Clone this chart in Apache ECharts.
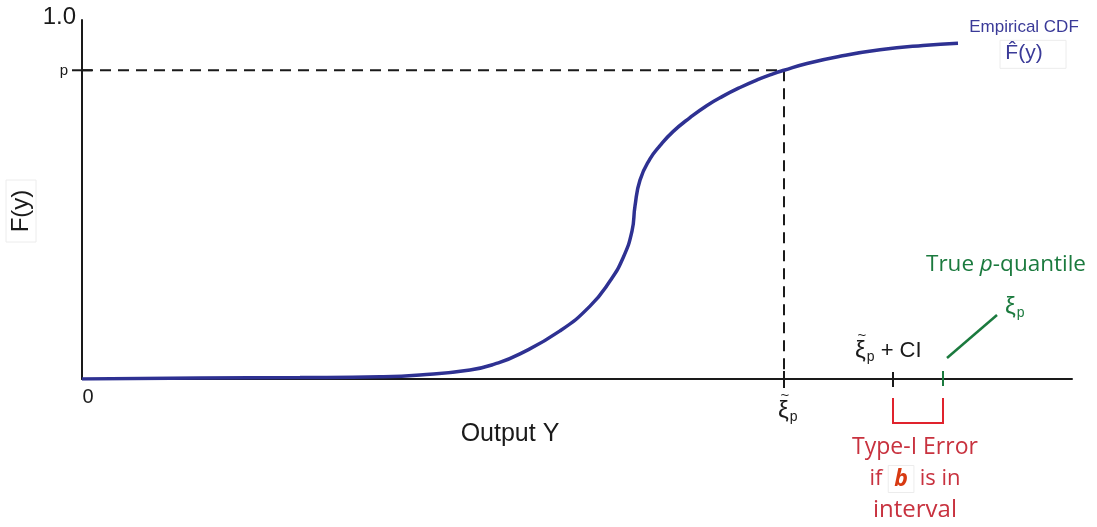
<!DOCTYPE html>
<html>
<head>
<meta charset="utf-8">
<script src="https://cdn.jsdelivr.net/npm/echarts@6/dist/echarts.min.js"></script>
<style>
  html, body { margin: 0; padding: 0; background: #fff; }
  #chart { width: 1097px; height: 527px; }
</style>
</head>
<body>
<div id="chart"></div>
<script>
// Empirical CDF sample points: output value and cumulative probability
const outputY = [0, 11.8, 21.8, 29.8, 33.8, 38.8, 41.3, 43.8, 47.8, 50.8, 52.8, 54.1, 55.0, 55.3, 55.8, 56.8, 57.8, 59.1, 60.8, 62.5, 64.1, 65.8, 67.5, 69.1, 70.2, 72.5, 75.8, 79.8, 84.1, 87.6];
const cdfValues = [0, 0.003, 0.004, 0.006, 0.011, 0.025, 0.042, 0.070, 0.134, 0.203, 0.273, 0.337, 0.412, 0.482, 0.554, 0.613, 0.650, 0.689, 0.728, 0.762, 0.788, 0.812, 0.833, 0.850, 0.860, 0.879, 0.899, 0.917, 0.929, 0.935];

// Probability level p and the quantities marked on the output axis
const pLevel = 0.86;
const quantileEstimate = 70.2;   // estimated p-quantile
const ciUpper = 81.1;            // upper end of the confidence interval
const trueQuantile = 86.1;       // true p-quantile
const xMax = 99;

// Axis labels
const yTickLabels = ['1.0', 'p'];
const xTickLabels = ['0'];

const INK = '#1a1a1a';
const CURVE = '#2e3192';
const GREEN = '#1b7a3e';
const RED = '#c8323f';
const BRACKET = '#e0232d';
const SANS = '"Liberation Sans", Arial, sans-serif';
const HUMAN = '"Open Sans", "Noto Sans", sans-serif';

const chart = echarts.init(document.getElementById('chart'), null, { renderer: 'canvas' });

chart.setOption({
  animation: false,
  backgroundColor: '#fff',
  grid: { left: 82, right: 25, top: 20, bottom: 148 },
  xAxis: {
    type: 'value', min: 0, max: xMax,
    axisLine: { lineStyle: { color: INK, width: 2 } },
    axisTick: { show: false }, axisLabel: { show: false }, splitLine: { show: false }
  },
  yAxis: {
    type: 'value', min: 0, max: 1,
    axisLine: { show: true, lineStyle: { color: INK, width: 2 } },
    axisTick: { show: false }, axisLabel: { show: false }, splitLine: { show: false }
  },
  series: [
    {
      name: 'Empirical CDF',
      type: 'line',
      data: outputY.map((x, i) => [x, cdfValues[i]]),
      smooth: 0.5,
      symbol: 'none',
      lineStyle: { color: CURVE, width: 3.5 },
      z: 5
    },
    {
      name: 'quantile guide',
      type: 'line',
      data: [[0, pLevel], [quantileEstimate, pLevel], [quantileEstimate, 0]],
      symbol: 'none',
      lineStyle: { color: INK, width: 2, type: [11, 7] },
      z: 3
    }
  ]
});

// Annotations placed from the data values via the grid's coordinate system
const toPx = (x, y) => chart.convertToPixel({ gridIndex: 0 }, [x, y]);
const [x0, y0] = toPx(0, 0);
const [, yTop] = toPx(0, 1);
const [, yP] = toPx(0, pLevel);
const [xQ] = toPx(quantileEstimate, 0);
const [xCI] = toPx(ciUpper, 0);
const [xT] = toPx(trueQuantile, 0);
const [xEnd, yEnd] = toPx(outputY[outputY.length - 1], cdfValues[cdfValues.length - 1]);

const line = (x1, y1, x2, y2, color, width) => ({
  type: 'line', silent: true, z: 10,
  shape: { x1, y1, x2, y2 },
  style: { stroke: color, lineWidth: width || 2 }
});
const text = (x, y, str, style) => ({
  type: 'text', silent: true, z: 10, x, y,
  style: Object.assign({ text: str, textAlign: 'center', textVerticalAlign: 'middle' }, style)
});

// ξ with subscript p (optionally with a tilde and trailing text), left edge at x, middle at y
const xiLabel = (x, y, color, tilde, suffix) => {
  const parts = [
    text(x, y, '{xi|ξ}{s|p}' + (suffix ? '{t|' + suffix + '}' : ''), {
      textAlign: 'left',
      rich: {
        xi: { font: '24px ' + SANS, fill: color },
        s: { font: '14px ' + SANS, fill: color, padding: [13, 0, 0, 1] },
        t: { font: '22px ' + SANS, fill: color }
      }
    })
  ];
  if (tilde) {
    parts.push(text(x + 7, y - 15, '~', { font: '15px ' + SANS, fill: color }));
  }
  return parts;
};

const graphics = [
  // y-axis tick for p, crossing the axis
  line(x0 - 10, yP, x0 + 10, yP, INK, 2),
  // x-axis ticks
  line(xQ, y0 - 8, xQ, y0 + 9, INK, 2),
  line(xCI, y0 - 7, xCI, y0 + 8, INK, 2),
  line(xT, y0 - 8, xT, y0 + 7, GREEN, 2),
  // leader to the true quantile label
  line(xT + 4, y0 - 21, xT + 54, y0 - 64, GREEN, 2.5),
  // interval bracket
  {
    type: 'polyline', silent: true, z: 10,
    shape: { points: [[xCI, y0 + 19], [xCI, y0 + 44], [xT, y0 + 44], [xT, y0 + 19]] },
    style: { stroke: BRACKET, lineWidth: 2, fill: null }
  },

  // y-axis labels
  text(x0 - 6, yTop - 3, yTickLabels[0], { textAlign: 'right', font: '24px ' + SANS, fill: INK }),
  text(x0 - 14, yP + 1, yTickLabels[1], { textAlign: 'right', font: '15px ' + SANS, fill: INK }),
  // x-axis labels
  text(x0 + 6, y0 + 18, xTickLabels[0], { font: '20px ' + SANS, fill: INK }),
  ...xiLabel(xQ - 6, y0 + 32, INK, true),

  // axis titles
  text(510, 434, 'Output Y', { font: '25px ' + SANS, fill: INK }),
  {
    type: 'rect', silent: true, z: 9,
    shape: { x: 6, y: 180, width: 30, height: 62 },
    style: { stroke: '#ececec', lineWidth: 1, fill: null }
  },
  {
    type: 'text', silent: true, z: 10, x: 21, y: 211, rotation: Math.PI / 2,
    style: { text: 'F(y)', font: '24px ' + SANS, fill: INK, textAlign: 'center', textVerticalAlign: 'middle' }
  },

  // curve legend
  text(xEnd + 66, yEnd - 16, 'Empirical CDF', { font: '17px ' + SANS, fill: '#3a3a98' }),
  {
    type: 'rect', silent: true, z: 9,
    shape: { x: xEnd + 42, y: yEnd - 3, width: 66, height: 28 },
    style: { stroke: '#ececec', lineWidth: 1, fill: null }
  },
  text(xEnd + 66, yEnd + 10, 'F\u0302(y)', { font: '21px ' + SANS, fill: '#3a3a98' }),

  // true quantile annotation
  text(xT + 63, y0 - 114, '{t|True }{i|p}{t|-quantile}', {
    rich: {
      t: { font: '22.5px ' + HUMAN, fill: GREEN },
      i: { font: 'italic 22.5px ' + HUMAN, fill: GREEN }
    }
  }),
  ...xiLabel(xT + 62, y0 - 72, GREEN, false),

  // estimate with confidence interval
  ...xiLabel(xCI - 38, y0 - 28, INK, true, ' + CI'),

  // Type-I error note
  text((xCI + xT) / 2 - 3, y0 + 68, 'Type-I Error', { font: '23px ' + HUMAN, fill: RED }),
  text((xCI + xT) / 2 - 3, y0 + 100, '{t|if }{b|b}{t| is in}', {
    rich: {
      t: { font: '22px ' + HUMAN, fill: RED },
      b: {
        font: 'italic bold 23px ' + HUMAN, fill: '#d83a12',
        borderColor: '#ececec', borderWidth: 1, padding: [2, 6, 2, 6]
      }
    }
  }),
  text((xCI + xT) / 2 - 3, y0 + 131, 'interval', { font: '24px ' + HUMAN, fill: RED })
];

chart.setOption({ graphic: { elements: graphics } });
</script>
</body>
</html>
